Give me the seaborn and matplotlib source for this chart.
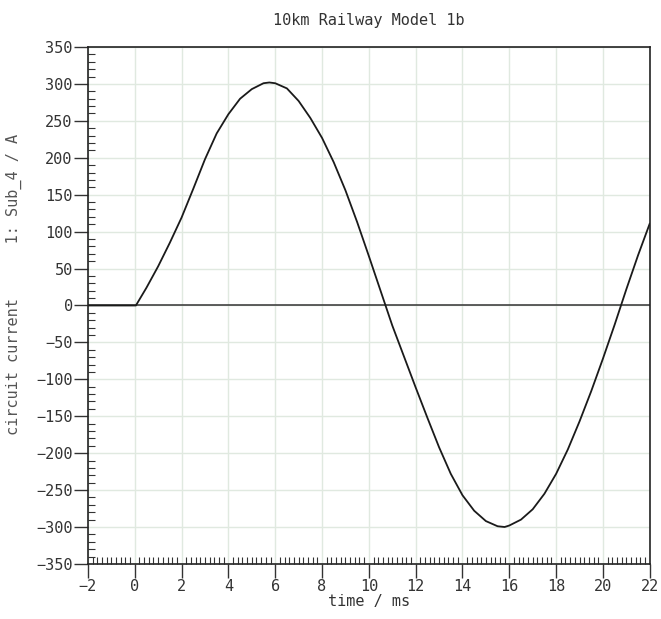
import matplotlib
matplotlib.use("Agg")
import matplotlib.pyplot as plt
from matplotlib.ticker import MultipleLocator
import pandas as pd
import seaborn as sns

# Data (time in ms, current in A)
time_ms = [-2.0, 0.05, 0.5, 1.0, 1.5, 2.0, 2.5, 3.0, 3.5, 4.0, 4.5, 5.0, 5.5, 5.75,
           6.0, 6.5, 7.0, 7.5, 8.0, 8.5, 9.0, 9.5, 10.0, 10.5, 11.0, 11.5, 12.0,
           12.5, 13.0, 13.5, 14.0, 14.5, 15.0, 15.5, 15.8, 16.0, 16.5, 17.0, 17.5,
           18.0, 18.5, 19.0, 19.5, 20.0, 20.5, 21.0, 21.5, 22.0]
current_a = [0, 0, 24, 53, 85, 119, 158, 198, 233, 259, 280, 293, 301, 302,
             301, 294, 277, 254, 227, 194, 156, 113, 67, 20, -27, -69, -111,
             -152, -192, -228, -257, -278, -292, -299, -300, -298, -290, -276, -255,
             -228, -195, -157, -116, -72, -26, 22, 68, 111]
zero_time = [-2, 22]
zero_level = [0, 0]

df = pd.DataFrame({"t": time_ms, "i": current_a})
df0 = pd.DataFrame({"t": zero_time, "i": zero_level})

sns.set_style("white")
plt.rcParams['font.family'] = ['DejaVu Sans Mono', 'DejaVu Sans']

fig = plt.figure(figsize=(6.61, 6.19), dpi=100)
ax = fig.add_axes([0.133, 0.089, 0.85, 0.835])

sns.lineplot(data=df0, x="t", y="i", color="#333333", linewidth=1.1, ax=ax)
sns.lineplot(data=df, x="t", y="i", color="#1a1a1a", linewidth=1.3,
             sort=False, estimator=None, ax=ax)

ax.set_xlim(-2, 22)
ax.set_ylim(-350, 350)
ax.xaxis.set_major_locator(MultipleLocator(2))
ax.xaxis.set_minor_locator(MultipleLocator(0.2))
ax.yaxis.set_major_locator(MultipleLocator(50))
ax.yaxis.set_minor_locator(MultipleLocator(10))

ax.grid(True, which="major", color="#e0e9e0", linewidth=1.0)
ax.set_axisbelow(True)

ax.tick_params(which="major", direction="out", length=10, width=1,
               color="#333333", labelsize=11, labelcolor="#333333", pad=1)
ax.tick_params(which="minor", direction="in", length=5, width=0.8,
               color="#333333")
ax.tick_params(axis="x", which="both", top=False, bottom=True)
ax.tick_params(axis="y", which="both", right=False, left=True)

for spine in ax.spines.values():
    spine.set_visible(True)
    spine.set_color("#222222")
    spine.set_linewidth(1.2)

ax.set_xlabel("time / ms", fontsize=11, color="#333333", labelpad=0)
ax.set_ylabel("circuit current      1: Sub_4 / A", fontsize=11, color="#555555")
ax.yaxis.set_label_coords(-0.117, 0.54)
ax.set_title("10km Railway Model 1b", fontsize=11, color="#333333", pad=16)

plt.savefig("out.png", dpi=100)
